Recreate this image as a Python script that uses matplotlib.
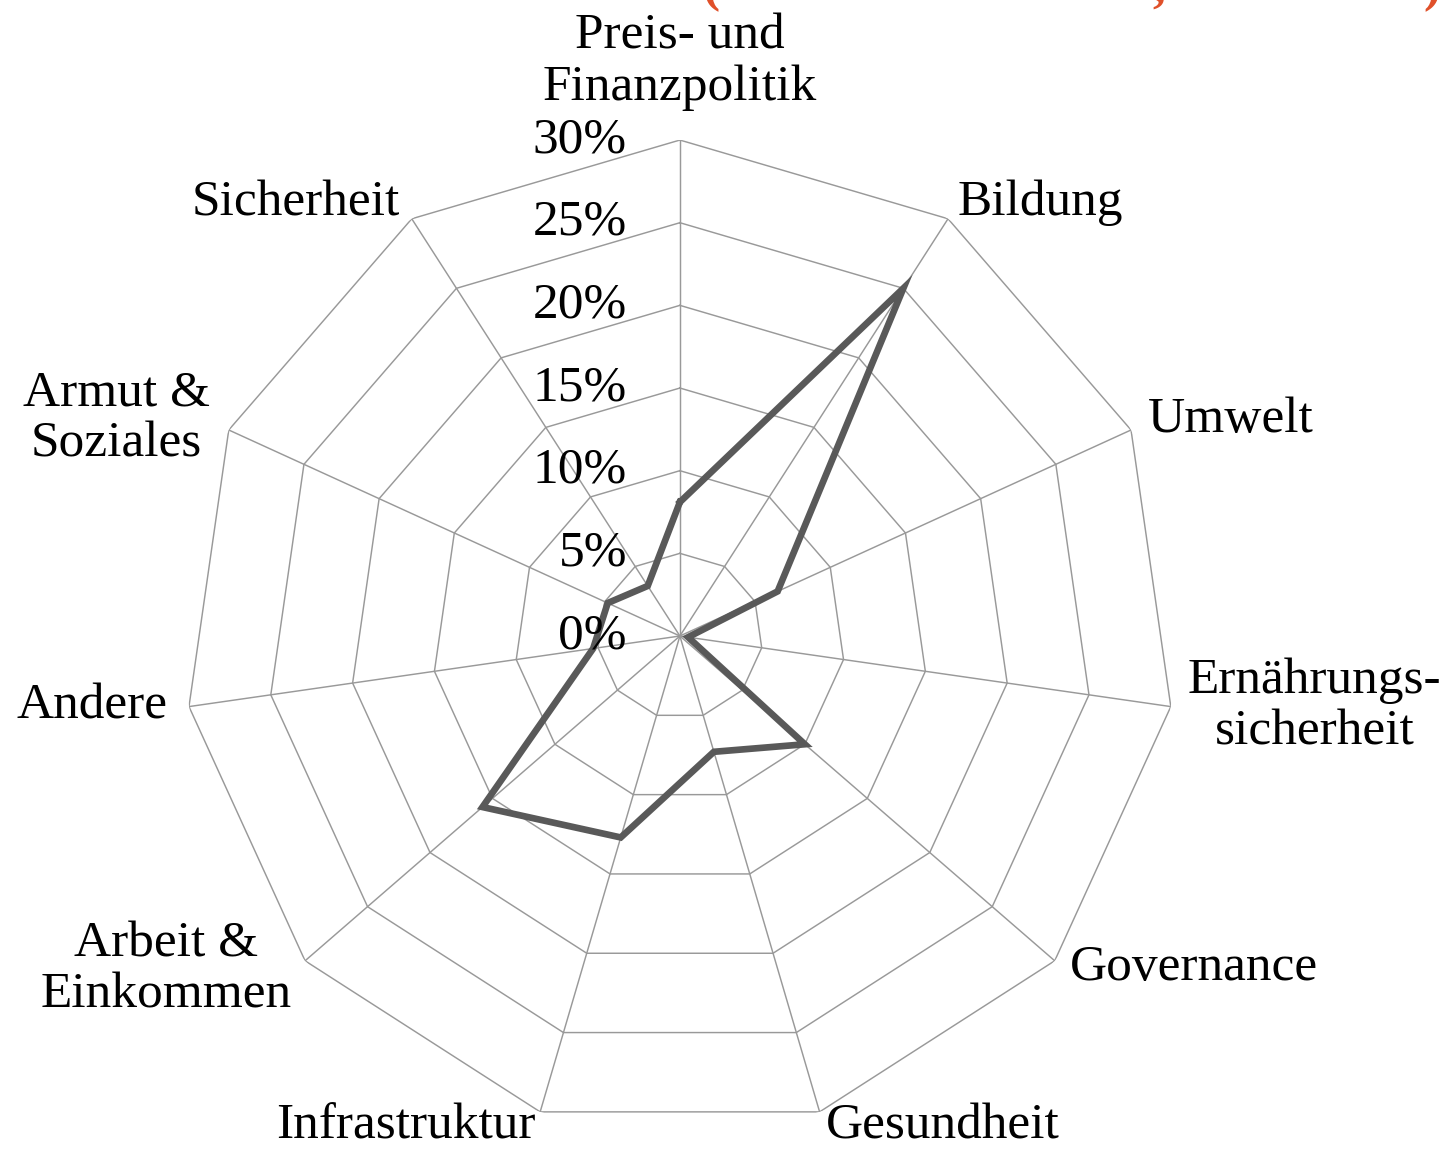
import numpy as np
import matplotlib
matplotlib.use("Agg")
import matplotlib.pyplot as plt

categories = ["Preis- und\nFinanzpolitik", "Bildung", "Umwelt", "Ernährungs-\nsicherheit",
              "Governance", "Gesundheit", "Infrastruktur", "Arbeit &\nEinkommen",
              "Andere", "Armut &\nSoziales", "Sicherheit"]
values = [8.1, 25.0, 6.5, 0.5, 10.0, 7.3, 12.7, 15.8, 5.3, 4.8, 3.6]
ring_values = [0, 5, 10, 15, 20, 25, 30]
ring_labels = ["0%", "5%", "10%", "15%", "20%", "25%", "30%"]

# label placement (offset in pixels from outer vertex, alignment)
label_layout = [
    ((0, 78), "center", "center"),
    ((10, 16), "left", "center"),
    ((17, 10), "left", "center"),
    ((17, 0), "left", "center"),
    ((15, -7), "left", "center"),
    ((6, -14), "left", "center"),
    ((-5, -14), "right", "center"),
    ((-13, -9), "right", "center"),
    ((-21, 0), "right", "center"),
    ((-19, 11), "right", "center"),
    ((-12, 16), "right", "center"),
]

FONT = "Liberation Serif"
FS = 37
grid_color = "#999999"
line_color = "#595959"

fig = plt.figure(figsize=(14.54, 11.5), dpi=100)
fig.patch.set_facecolor("white")
ax = fig.add_axes([0.1265, 0.01565, 0.6822, 0.8626], projection="polar")
ax.set_theta_zero_location("N")
ax.set_theta_direction(-1)
ax.set_ylim(0, 30)
ax.grid(False)
ax.spines["polar"].set_visible(False)
ax.set_xticks([])
ax.set_yticks([])
ax.patch.set_visible(False)

n = len(categories)
theta = np.arange(n) * 2 * np.pi / n
theta_closed = np.append(theta, theta[0])

for r in ring_values[1:]:
    ax.plot(theta_closed, [r] * (n + 1), color=grid_color, lw=1.05, zorder=1)
for t in theta:
    ax.plot([t, t], [0, ring_values[-1]], color=grid_color, lw=1.05, zorder=1)

vals_closed = np.append(values, values[0])
ax.plot(theta_closed, vals_closed, color=line_color, lw=4.8, zorder=3,
        solid_joinstyle="miter")

for r, lab in zip(ring_values, ring_labels):
    ax.annotate(lab, xy=(0, r), xytext=(-53, 0), textcoords="offset pixels",
                ha="right", va="center", fontsize=FS, family=FONT, zorder=4,
                annotation_clip=False)

for t, lab, (off, ha, va) in zip(theta, categories, label_layout):
    ax.annotate(lab, xy=(t, ring_values[-1]), xytext=off, textcoords="offset pixels",
                ha=ha, va=va, multialignment="center", fontsize=FS, family=FONT,
                linespacing=1.13, annotation_clip=False)

# partially visible red heading (cut at top of the image, as in the reference)
for x, s in [(0.489, "("), (0.797, ","), (0.985, ")")]:
    fig.text(x, 1 - 1 / 1150, s, color="#e0502a", fontsize=FS, family=FONT,
             fontweight="bold", ha="center", va="baseline")

fig.savefig("out.png", dpi=100, facecolor="white")
